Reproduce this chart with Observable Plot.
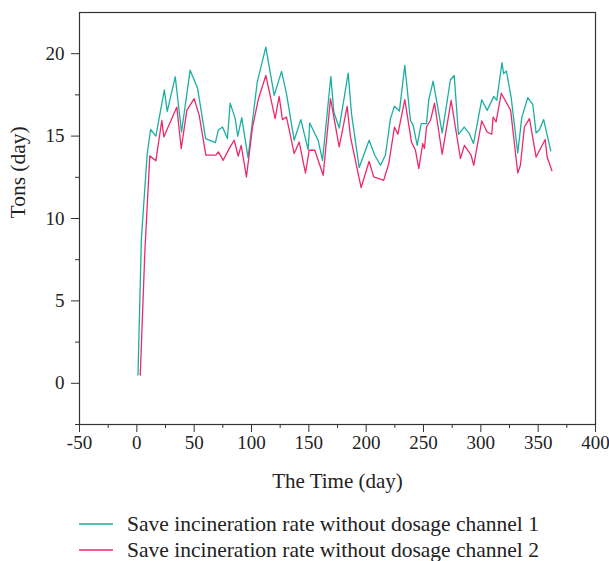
<!DOCTYPE html>
<html>
<head>
<meta charset="utf-8">
<script src="https://cdn.jsdelivr.net/npm/d3@7"></script>
<script src="https://cdn.jsdelivr.net/npm/@observablehq/plot@0.6"></script>
<style>
  html, body { margin: 0; padding: 0; background: #fff; }
  #chart { width: 609px; }
  .legend { font-family: "Liberation Serif", serif; font-size: 21.5px; color: #222; padding-top: 11px; }
  .legend .row { display: flex; align-items: center; height: 26px; }
  .legend svg { margin-left: 79px; margin-right: 14px; }
</style>
</head>
<body>
<div id="chart"></div>
<script>
// Series 1: Save incineration rate without dosage channel 1
const days1 = [1, 4, 9, 12, 16.6, 24, 26.5, 33.5, 39, 46.5, 53, 60, 68.5, 71, 74.7, 79, 81.4, 85.8, 88, 91.5,
  97, 105, 112.5, 119.8, 126.2, 130.5, 137.2, 143, 149.4, 150.8, 158.1, 161.9, 169.2, 171.8, 176.5, 184.3,
  187.2, 193.9, 202.6, 207.5, 212.5, 216.8, 221.2, 224.7, 229, 233.7, 238.6, 241, 244.5, 248, 252.6, 254.6,
  258.4, 266.3, 273.5, 276.8, 280.5, 285.5, 290, 293.6, 300.8, 305.5, 311.3, 313.9, 318.4, 319.9, 322.3,
  326.4, 332.2, 335.7, 340.9, 345.3, 348.2, 351.1, 354.8, 361];
const tons1 = [0.5, 8.8, 13.9, 15.4, 15.0, 17.8, 16.5, 18.6, 15.25, 19.0, 17.9, 14.85, 14.6, 15.35, 15.55, 14.85, 17.0, 16.06, 14.99, 16.12,
  13.7, 18.28, 20.4, 17.47, 18.93, 17.58, 14.75, 16.0, 14.18, 15.8, 14.75, 13.53, 18.62, 16.46, 15.49, 18.82,
  16.36, 13.09, 14.75, 13.84, 13.23, 13.84, 16.06, 16.81, 16.52, 19.29, 15.96, 15.65, 14.44, 15.76, 15.76, 17.21,
  18.34, 15.19, 18.42, 18.68, 15.1, 15.55, 15.15, 14.55, 17.21, 16.56, 17.41, 17.17, 19.45, 18.79, 18.95,
  17.37, 13.98, 16.12, 17.33, 16.93, 15.19, 15.39, 16.0, 14.1];

// Series 2: Save incineration rate without dosage channel 2
const days2 = [3, 7, 11.3, 16.6, 21.8, 23.5, 34.9, 38.7, 43.6, 50, 54.4, 60.2, 68.9, 71.2, 75.3, 80.5, 84.9, 88.4, 91, 95.6,
  100.9, 106.1, 112.5, 120.6, 124.1, 127, 130.5, 137.2, 141.6, 147.1, 150.3, 155.2, 162.5, 168.9, 176.5, 183.4,
  186.3, 195.6, 202.6, 206.6, 215.3, 219.7, 224.7, 227.6, 233.7, 239.5, 243, 245.9, 249.3, 250.8, 252.6, 256.1,
  259.6, 266.3, 274.1, 282.2, 285.7, 291.5, 293.8, 300.8, 305.5, 309.5, 310.7, 313.3, 317.8, 326, 332.2, 334.5,
  338, 342.4, 348.2, 356.1, 357.8, 362];
const tons2 = [0.5, 8.0, 13.8, 13.5, 15.96, 14.95, 16.76, 14.24, 16.56, 17.27, 16.26, 13.84, 13.84, 14.04, 13.53, 14.24, 14.75, 13.78, 14.44, 12.52,
  15.55, 17.27, 18.68, 16.06, 17.41, 16.0, 16.16, 13.94, 14.64, 12.76, 14.14, 14.14, 12.62, 17.27, 14.34, 16.81,
  14.95, 11.88, 13.47, 12.52, 12.32, 13.33, 15.55, 15.11, 17.21, 14.64, 14.14, 13.03, 14.55, 14.24, 15.55, 15.96,
  17.0, 13.9, 17.17, 13.64, 14.44, 13.84, 13.23, 15.92, 15.25, 15.11, 16.16, 15.86, 17.6, 16.56, 12.76, 13.23,
  15.55, 16.06, 13.73, 14.79, 13.73, 12.9];

const seriesNames = ["Save incineration rate without dosage channel 1", "Save incineration rate without dosage channel 2"];
const seriesColors = ["#1aafa3", "#ec2a6b"];

const xMajor = [-50, 0, 50, 100, 150, 200, 250, 300, 350, 400];
const xMinor = [-25, 25, 75, 125, 175, 225, 275, 325, 375];
const yMajor = [0, 5, 10, 15, 20];
const yMinor = [-2.5, 2.5, 7.5, 12.5, 17.5];

const data1 = days1.map((d, i) => ({day: d, tons: tons1[i]}));
const data2 = days2.map((d, i) => ({day: d, tons: tons2[i]}));

const chart = Plot.plot({
  width: 609,
  height: 500,
  marginLeft: 79,
  marginRight: 14,
  marginTop: 12,
  marginBottom: 76,
  style: {fontFamily: "Liberation Serif, serif", fontSize: "19px", color: "#333", background: "#fff"},
  x: {domain: [-50, 400]},
  y: {domain: [-2.5, 22.5]},
  marks: [
    Plot.axisX({ticks: xMajor, tickSize: 8, tickPadding: 3, tickFormat: d => String(d), label: null, fill: "#222"}),
    Plot.axisX({ticks: xMinor, tickSize: 4, tickFormat: () => "", label: null}),
    Plot.axisY({ticks: yMajor, tickSize: 8, tickPadding: 7, tickFormat: d => String(d), label: null, fill: "#222"}),
    Plot.axisY({ticks: yMinor, tickSize: 4, tickFormat: () => "", label: null}),
    Plot.line(data1, {x: "day", y: "tons", stroke: seriesColors[0], strokeWidth: 1.3}),
    Plot.line(data2, {x: "day", y: "tons", stroke: seriesColors[1], strokeWidth: 1.3}),
    Plot.frame({stroke: "#333", strokeWidth: 1.2}),
    Plot.text(["The Time (day)"], {frameAnchor: "bottom", dy: 57, lineAnchor: "middle", fontSize: 21, fill: "#222"}),
    Plot.text(["Tons (day)"], {frameAnchor: "left", dx: -61, rotate: -90, lineAnchor: "middle", fontSize: 21.5, fill: "#222"})
  ]
});
document.getElementById("chart").appendChild(chart);

const legend = document.createElement("div");
legend.className = "legend";
seriesNames.forEach((name, i) => {
  const row = document.createElement("div");
  row.className = "row";
  row.innerHTML = `<svg width="34" height="4"><line x1="0" y1="2" x2="34" y2="2" stroke="${seriesColors[i]}" stroke-width="1.5"/></svg><span>${name}</span>`;
  legend.appendChild(row);
});
document.getElementById("chart").appendChild(legend);
</script>
</body>
</html>
